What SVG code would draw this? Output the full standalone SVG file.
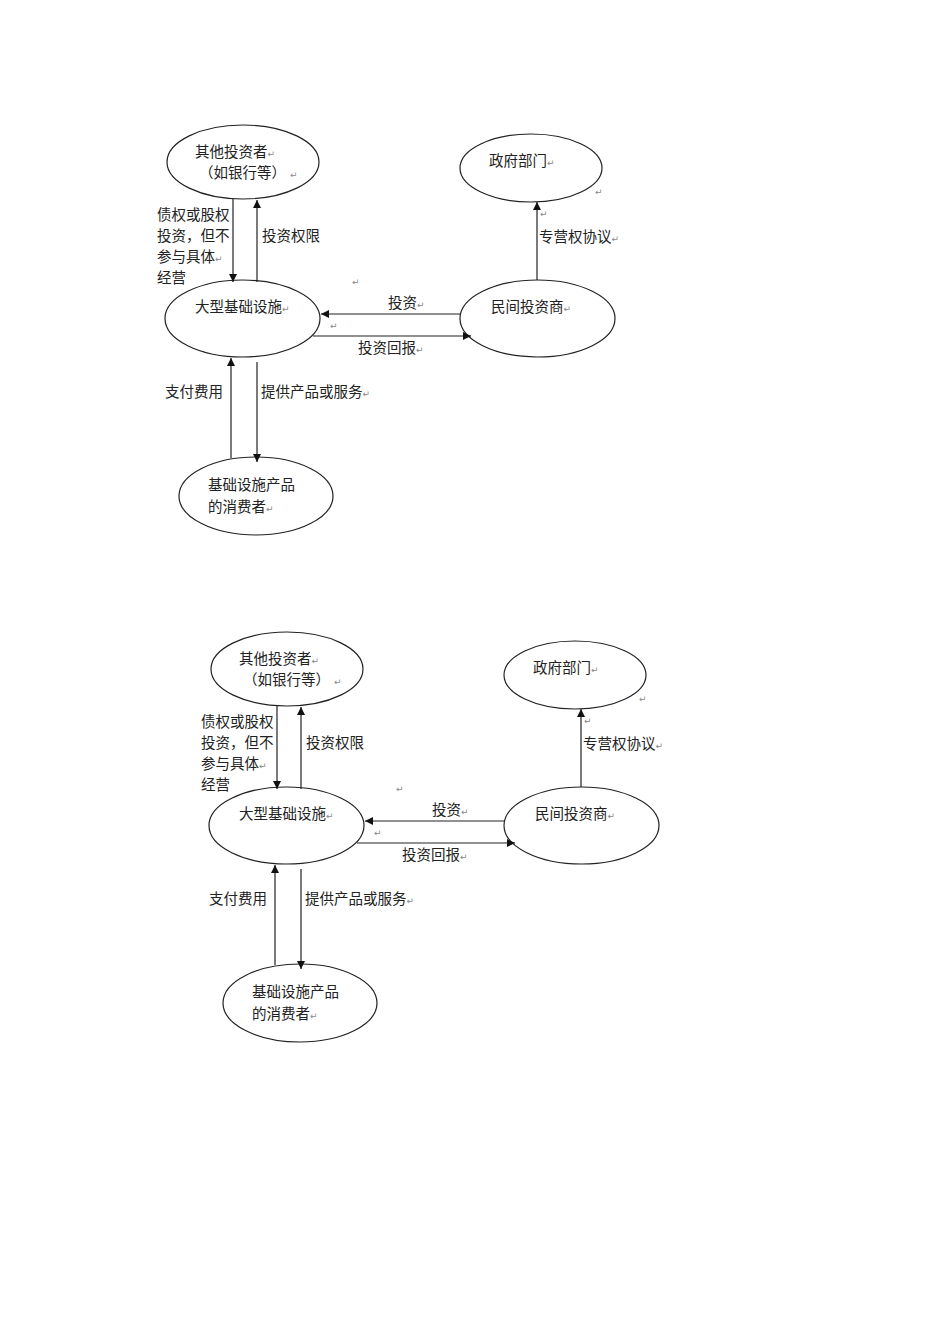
<svg xmlns="http://www.w3.org/2000/svg" width="950" height="1344" viewBox="0 0 950 1344">
<style>
.e{fill:none;stroke:#222;stroke-width:1.2}
.t{font-family:"Noto Sans CJK SC","Noto Sans",sans-serif;font-size:14.5px;fill:#222}
.m{font-family:"DejaVu Sans",sans-serif;font-size:9px;fill:#888}
.c{stroke:#222;stroke-width:1.2;fill:none}
</style>
<defs>
<marker id="ah" viewBox="0 0 10 10" refX="10" refY="5" markerWidth="8" markerHeight="8" markerUnits="userSpaceOnUse" orient="auto">
<path d="M0,0 L10,5 L0,10 Z" fill="#111"/>
</marker>
</defs>
<rect width="950" height="1344" fill="#fff"/>
<g id="diagram1">
<g id="d1-others"><ellipse class="e" cx="243" cy="162" rx="76" ry="37"/><text class="t" x="195" y="157">其他投资者<tspan class="m">↵</tspan></text><text class="t" x="199" y="178">（如银行等）<tspan class="m" dx="4">↵</tspan></text></g>
<g id="d1-gov"><ellipse class="e" cx="531" cy="168" rx="71" ry="34"/><text class="t" x="489" y="166">政府部门<tspan class="m">↵</tspan></text></g>
<g id="d1-infra"><ellipse class="e" cx="242.5" cy="318.5" rx="77.5" ry="38.5"/><text class="t" x="195" y="312">大型基础设施<tspan class="m">↵</tspan></text></g>
<g id="d1-private"><ellipse class="e" cx="537.5" cy="318.5" rx="77.5" ry="38.5"/><text class="t" x="491" y="312">民间投资商<tspan class="m">↵</tspan></text></g>
<g id="d1-consumer"><ellipse class="e" cx="256" cy="496" rx="77" ry="39"/><text class="t" x="208" y="490">基础设施产品</text><text class="t" x="208" y="512">的消费者<tspan class="m">↵</tspan></text></g>
<g id="d1-connectors">
<line class="c" x1="233" y1="199" x2="233" y2="282" marker-end="url(#ah)"/>
<line class="c" x1="257" y1="282" x2="257" y2="200" marker-end="url(#ah)"/>
<line class="c" x1="461" y1="314" x2="321" y2="314" marker-end="url(#ah)"/>
<line class="c" x1="313" y1="336" x2="471" y2="336" marker-end="url(#ah)"/>
<line class="c" x1="537" y1="280" x2="537" y2="202" marker-end="url(#ah)"/>
<line class="c" x1="231" y1="458" x2="231" y2="358" marker-end="url(#ah)"/>
<line class="c" x1="257" y1="362" x2="257" y2="462" marker-end="url(#ah)"/>
<text class="t" x="157" y="220">债权或股权</text>
<text class="t" x="157" y="241">投资，但不</text>
<text class="t" x="157" y="262">参与具体<tspan class="m">↵</tspan></text>
<text class="t" x="157" y="283">经营</text>
<text class="t" x="262" y="241">投资权限</text>
<text class="m" x="352" y="285">↵</text>
<text class="m" x="595" y="195">↵</text>
<text class="m" x="540" y="217">↵</text>
<text class="t" x="539" y="242">专营权协议<tspan class="m">↵</tspan></text>
<text class="t" x="388" y="308">投资<tspan class="m">↵</tspan></text>
<text class="m" x="330" y="329">↵</text>
<text class="t" x="358" y="353">投资回报<tspan class="m">↵</tspan></text>
<text class="t" x="165" y="397">支付费用</text>
<text class="t" x="261" y="397">提供产品或服务<tspan class="m">↵</tspan></text>
</g>
</g>
<g id="diagram2" transform="translate(44,507)">
<g id="d2-others"><ellipse class="e" cx="243" cy="162" rx="76" ry="37"/><text class="t" x="195" y="157">其他投资者<tspan class="m">↵</tspan></text><text class="t" x="199" y="178">（如银行等）<tspan class="m" dx="4">↵</tspan></text></g>
<g id="d2-gov"><ellipse class="e" cx="531" cy="168" rx="71" ry="34"/><text class="t" x="489" y="166">政府部门<tspan class="m">↵</tspan></text></g>
<g id="d2-infra"><ellipse class="e" cx="242.5" cy="318.5" rx="77.5" ry="38.5"/><text class="t" x="195" y="312">大型基础设施<tspan class="m">↵</tspan></text></g>
<g id="d2-private"><ellipse class="e" cx="537.5" cy="318.5" rx="77.5" ry="38.5"/><text class="t" x="491" y="312">民间投资商<tspan class="m">↵</tspan></text></g>
<g id="d2-consumer"><ellipse class="e" cx="256" cy="496" rx="77" ry="39"/><text class="t" x="208" y="490">基础设施产品</text><text class="t" x="208" y="512">的消费者<tspan class="m">↵</tspan></text></g>
<g id="d2-connectors">
<line class="c" x1="233" y1="199" x2="233" y2="282" marker-end="url(#ah)"/>
<line class="c" x1="257" y1="282" x2="257" y2="200" marker-end="url(#ah)"/>
<line class="c" x1="461" y1="314" x2="321" y2="314" marker-end="url(#ah)"/>
<line class="c" x1="313" y1="336" x2="471" y2="336" marker-end="url(#ah)"/>
<line class="c" x1="537" y1="280" x2="537" y2="202" marker-end="url(#ah)"/>
<line class="c" x1="231" y1="458" x2="231" y2="358" marker-end="url(#ah)"/>
<line class="c" x1="257" y1="362" x2="257" y2="462" marker-end="url(#ah)"/>
<text class="t" x="157" y="220">债权或股权</text>
<text class="t" x="157" y="241">投资，但不</text>
<text class="t" x="157" y="262">参与具体<tspan class="m">↵</tspan></text>
<text class="t" x="157" y="283">经营</text>
<text class="t" x="262" y="241">投资权限</text>
<text class="m" x="352" y="285">↵</text>
<text class="m" x="595" y="195">↵</text>
<text class="m" x="540" y="217">↵</text>
<text class="t" x="539" y="242">专营权协议<tspan class="m">↵</tspan></text>
<text class="t" x="388" y="308">投资<tspan class="m">↵</tspan></text>
<text class="m" x="330" y="329">↵</text>
<text class="t" x="358" y="353">投资回报<tspan class="m">↵</tspan></text>
<text class="t" x="165" y="397">支付费用</text>
<text class="t" x="261" y="397">提供产品或服务<tspan class="m">↵</tspan></text>
</g>
</g>
</svg>
